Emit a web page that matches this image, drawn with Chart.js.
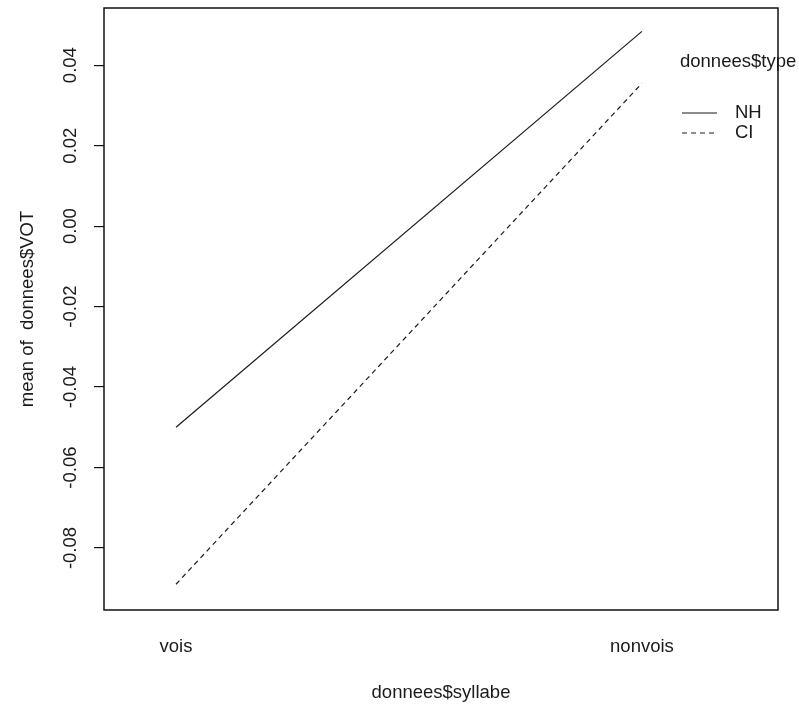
<!DOCTYPE html>
<html>
<head>
<meta charset="utf-8">
<script src="https://cdn.jsdelivr.net/npm/chart.js@4"></script>
<style>
  body { margin: 0; background: #fff; }
  canvas { display: block; }
</style>
</head>
<body>
<canvas id="graph-box" width="799" height="704"></canvas>
<script>
// interaction plot: mean VOT by syllabe x type
const categories = ['vois', 'nonvois'];
const seriesNames = ['NH', 'CI'];
const nhValues = [-0.050, 0.0484];
const ciValues = [-0.089, 0.0355];
const yTicks = [-0.08, -0.06, -0.04, -0.02, 0.00, 0.02, 0.04];

const ctx = document.getElementById('graph-box');
const FONT = "'Liberation Sans', Arial, sans-serif";
const INK = '#1a1a1a';

// frame around the plot area (R box())
const boxPlugin = {
  id: 'box',
  afterDraw(chart) {
    const a = chart.chartArea;
    const c = chart.ctx;
    c.save();
    c.strokeStyle = '#111';
    c.lineWidth = 1.5;
    c.strokeRect(a.left, a.top, a.right - a.left, a.bottom - a.top);
    c.restore();
  }
};

// legend like interaction.plot: title then line samples
const legendPlugin = {
  id: 'rlegend',
  afterDraw(chart) {
    const c = chart.ctx;
    c.save();
    c.font = '18.5px ' + FONT;
    c.fillStyle = INK;
    c.textBaseline = 'middle';
    c.textAlign = 'left';
    c.fillText('donnees$type', 680, 62);
    chart.data.datasets.forEach((ds, i) => {
      const y = 113 + i * 20;
      c.strokeStyle = ds.borderColor;
      c.lineWidth = ds.borderWidth;
      c.setLineDash(ds.borderDash || []);
      c.beginPath();
      c.moveTo(682, y);
      c.lineTo(717, y);
      c.stroke();
      c.setLineDash([]);
      c.fillText(ds.label, 735, y);
    });
    c.restore();
  }
};

const myChart = new Chart(ctx, {
  type: 'line',
  data: {
    datasets: [
      {
        label: seriesNames[0],
        data: categories.map((c, i) => ({ x: i + 1, y: nhValues[i] })),
        borderColor: INK,
        borderWidth: 1.2,
        pointRadius: 0,
        tension: 0
      },
      {
        label: seriesNames[1],
        data: categories.map((c, i) => ({ x: i + 1, y: ciValues[i] })),
        borderColor: INK,
        borderWidth: 1.2,
        borderDash: [5, 4],
        pointRadius: 0,
        tension: 0
      }
    ]
  },
  options: {
    responsive: false,
    animation: false,
    layout: { padding: { top: 8, right: 21, left: 0, bottom: 0 } },
    plugins: {
      legend: { display: false },
      tooltip: { enabled: false }
    },
    scales: {
      x: {
        type: 'linear',
        min: 0.8455,
        max: 2.292,
        afterBuildTicks: (scale) => {
          scale.ticks = categories.map((c, i) => ({ value: i + 1 }));
        },
        afterFit: (scale) => {
          scale.height = 94;
          scale.paddingLeft = 0;
          scale.paddingRight = 0;
        },
        grid: { display: false, drawTicks: false },
        border: { display: false },
        ticks: {
          autoSkip: false,
          maxRotation: 0,
          padding: 26,
          color: INK,
          font: { family: FONT, size: 18.5 },
          callback: (v) => categories[v - 1] || ''
        },
        title: {
          display: true,
          text: 'donnees$syllabe',
          color: INK,
          font: { family: FONT, size: 18.5 },
          padding: { top: 0, bottom: 0 }
        }
      },
      y: {
        min: -0.0954,
        max: 0.0542,
        afterBuildTicks: (scale) => {
          scale.ticks = yTicks.map(v => ({ value: v }));
        },
        afterFit: (scale) => {
          scale.width = 104;
          scale.paddingTop = 0;
          scale.paddingBottom = 0;
        },
        grid: {
          display: true,
          drawOnChartArea: false,
          drawTicks: true,
          tickLength: 10,
          color: '#111',
          lineWidth: 1.2
        },
        border: { display: false },
        ticks: {
          autoSkip: false,
          minRotation: 90,
          maxRotation: 90,
          crossAlign: 'center',
          padding: 2,
          color: INK,
          font: { family: FONT, size: 18.5 },
          callback: (v) => v.toFixed(2)
        },
        title: {
          display: true,
          text: 'mean of  donnees$VOT',
          color: INK,
          font: { family: FONT, size: 18.5 },
          padding: { top: 17, bottom: 0 }
        }
      }
    }
  },
  plugins: [boxPlugin, legendPlugin]
});
</script>
</body>
</html>
